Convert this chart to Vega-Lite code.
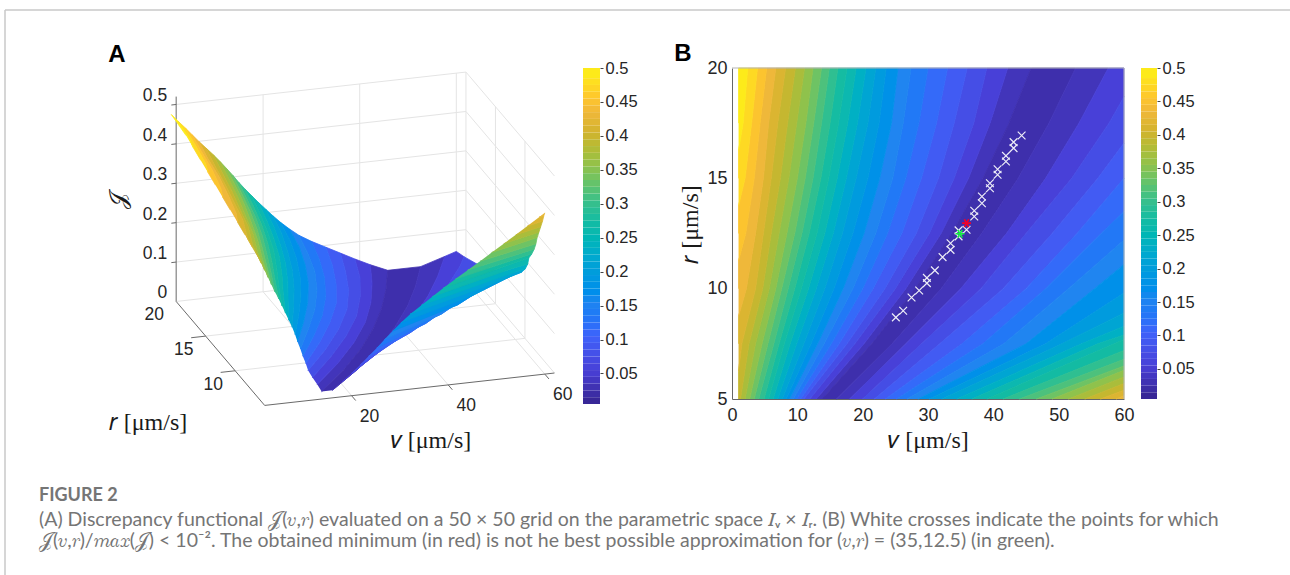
{"$schema":"https://vega.github.io/schema/vega-lite/v6.json","padding":0,"bounds":"flush","spacing":0,"columns":6,"align":"none","config":{"view":{"stroke":null},"font":"Liberation Sans"},
"datasets":{"s":[
{"a":1,"b":0,"v":13.8,"r":5,"J":0.02},{"a":1,"b":0,"v":21.4,"r":7.5,"J":0.02},{"a":1,"b":0,"v":28,"r":10,"J":0.02},{"a":1,"b":0,"v":33.6,"r":12.5,"J":0.02},{"a":1,"b":0,"v":38.4,"r":15,"J":0.02},{"a":1,"b":0,"v":42.4,"r":17.5,"J":0.02},{"a":1,"b":0,"v":45.8,"r":20,"J":0.02},
{"a":2,"b":1,"v":12.9,"r":5,"J":0.04},{"a":2,"b":1,"v":20.2,"r":7.5,"J":0.04},{"a":2,"b":1,"v":26.6,"r":10,"J":0.04},{"a":2,"b":1,"v":32,"r":12.5,"J":0.04},{"a":2,"b":1,"v":36.2,"r":15,"J":0.04},{"a":2,"b":1,"v":39.5,"r":17.5,"J":0.04},{"a":2,"b":1,"v":42.2,"r":20,"J":0.04},
{"a":3,"b":2,"v":11.9,"r":5,"J":0.06},{"a":3,"b":2,"v":18.8,"r":7.5,"J":0.06},{"a":3,"b":2,"v":25,"r":10,"J":0.06},{"a":3,"b":2,"v":30.2,"r":12.5,"J":0.06},{"a":3,"b":2,"v":34,"r":15,"J":0.06},{"a":3,"b":2,"v":37,"r":17.5,"J":0.06},{"a":3,"b":2,"v":39,"r":20,"J":0.06},
{"a":4,"b":3,"v":11,"r":5,"J":0.08},{"a":4,"b":3,"v":17.6,"r":7.5,"J":0.08},{"a":4,"b":3,"v":23.4,"r":10,"J":0.08},{"a":4,"b":3,"v":28.2,"r":12.5,"J":0.08},{"a":4,"b":3,"v":31.6,"r":15,"J":0.08},{"a":4,"b":3,"v":34,"r":17.5,"J":0.08},{"a":4,"b":3,"v":36,"r":20,"J":0.08},
{"a":5,"b":4,"v":10.5,"r":5,"J":0.1},{"a":5,"b":4,"v":16.4,"r":7.5,"J":0.1},{"a":5,"b":4,"v":21.6,"r":10,"J":0.1},{"a":5,"b":4,"v":26,"r":12.5,"J":0.1},{"a":5,"b":4,"v":29,"r":15,"J":0.1},{"a":5,"b":4,"v":31.3,"r":17.5,"J":0.1},{"a":5,"b":4,"v":33,"r":20,"J":0.1},
{"a":6,"b":5,"v":9.9,"r":5,"J":0.12},{"a":6,"b":5,"v":15.2,"r":7.5,"J":0.12},{"a":6,"b":5,"v":20,"r":10,"J":0.12},{"a":6,"b":5,"v":23.8,"r":12.5,"J":0.12},{"a":6,"b":5,"v":26.6,"r":15,"J":0.12},{"a":6,"b":5,"v":28.6,"r":17.5,"J":0.12},{"a":6,"b":5,"v":30,"r":20,"J":0.12},
{"a":7,"b":6,"v":9.4,"r":5,"J":0.14},{"a":7,"b":6,"v":14.1,"r":7.5,"J":0.14},{"a":7,"b":6,"v":18.5,"r":10,"J":0.14},{"a":7,"b":6,"v":22,"r":12.5,"J":0.14},{"a":7,"b":6,"v":24.6,"r":15,"J":0.14},{"a":7,"b":6,"v":26.2,"r":17.5,"J":0.14},{"a":7,"b":6,"v":27.4,"r":20,"J":0.14},
{"a":8,"b":7,"v":8.8,"r":5,"J":0.16},{"a":8,"b":7,"v":13.1,"r":7.5,"J":0.16},{"a":8,"b":7,"v":17,"r":10,"J":0.16},{"a":8,"b":7,"v":20.2,"r":12.5,"J":0.16},{"a":8,"b":7,"v":22.6,"r":15,"J":0.16},{"a":8,"b":7,"v":24.4,"r":17.5,"J":0.16},{"a":8,"b":7,"v":25.4,"r":20,"J":0.16},
{"a":9,"b":8,"v":8.3,"r":5,"J":0.18},{"a":9,"b":8,"v":12.1,"r":7.5,"J":0.18},{"a":9,"b":8,"v":15.6,"r":10,"J":0.18},{"a":9,"b":8,"v":18.5,"r":12.5,"J":0.18},{"a":9,"b":8,"v":20.8,"r":15,"J":0.18},{"a":9,"b":8,"v":22.5,"r":17.5,"J":0.18},{"a":9,"b":8,"v":23.6,"r":20,"J":0.18},
{"a":10,"b":9,"v":7.7,"r":5,"J":0.2},{"a":10,"b":9,"v":11,"r":7.5,"J":0.2},{"a":10,"b":9,"v":14.2,"r":10,"J":0.2},{"a":10,"b":9,"v":16.9,"r":12.5,"J":0.2},{"a":10,"b":9,"v":19,"r":15,"J":0.2},{"a":10,"b":9,"v":20.8,"r":17.5,"J":0.2},{"a":10,"b":9,"v":22,"r":20,"J":0.2},
{"a":11,"b":10,"v":7,"r":5,"J":0.22},{"a":11,"b":10,"v":9.9,"r":7.5,"J":0.22},{"a":11,"b":10,"v":12.9,"r":10,"J":0.22},{"a":11,"b":10,"v":15.5,"r":12.5,"J":0.22},{"a":11,"b":10,"v":17.5,"r":15,"J":0.22},{"a":11,"b":10,"v":19.2,"r":17.5,"J":0.22},{"a":11,"b":10,"v":20.5,"r":20,"J":0.22},
{"a":12,"b":11,"v":6.3,"r":5,"J":0.24},{"a":12,"b":11,"v":8.9,"r":7.5,"J":0.24},{"a":12,"b":11,"v":11.7,"r":10,"J":0.24},{"a":12,"b":11,"v":14.2,"r":12.5,"J":0.24},{"a":12,"b":11,"v":16.1,"r":15,"J":0.24},{"a":12,"b":11,"v":17.7,"r":17.5,"J":0.24},{"a":12,"b":11,"v":19,"r":20,"J":0.24},
{"a":13,"b":12,"v":5.6,"r":5,"J":0.26},{"a":13,"b":12,"v":8,"r":7.5,"J":0.26},{"a":13,"b":12,"v":10.6,"r":10,"J":0.26},{"a":13,"b":12,"v":13,"r":12.5,"J":0.26},{"a":13,"b":12,"v":14.8,"r":15,"J":0.26},{"a":13,"b":12,"v":16.3,"r":17.5,"J":0.26},{"a":13,"b":12,"v":17.6,"r":20,"J":0.26},
{"a":14,"b":13,"v":4.9,"r":5,"J":0.28},{"a":14,"b":13,"v":7.2,"r":7.5,"J":0.28},{"a":14,"b":13,"v":9.6,"r":10,"J":0.28},{"a":14,"b":13,"v":11.8,"r":12.5,"J":0.28},{"a":14,"b":13,"v":13.6,"r":15,"J":0.28},{"a":14,"b":13,"v":15,"r":17.5,"J":0.28},{"a":14,"b":13,"v":16.2,"r":20,"J":0.28},
{"a":15,"b":14,"v":4.1,"r":5,"J":0.3},{"a":15,"b":14,"v":6.4,"r":7.5,"J":0.3},{"a":15,"b":14,"v":8.6,"r":10,"J":0.3},{"a":15,"b":14,"v":10.7,"r":12.5,"J":0.3},{"a":15,"b":14,"v":12.4,"r":15,"J":0.3},{"a":15,"b":14,"v":13.7,"r":17.5,"J":0.3},{"a":15,"b":14,"v":14.9,"r":20,"J":0.3},
{"a":16,"b":15,"v":3.4,"r":5,"J":0.32},{"a":16,"b":15,"v":5.5,"r":7.5,"J":0.32},{"a":16,"b":15,"v":7.6,"r":10,"J":0.32},{"a":16,"b":15,"v":9.6,"r":12.5,"J":0.32},{"a":16,"b":15,"v":11.2,"r":15,"J":0.32},{"a":16,"b":15,"v":12.5,"r":17.5,"J":0.32},{"a":16,"b":15,"v":13.7,"r":20,"J":0.32},
{"a":17,"b":16,"v":2.7,"r":5,"J":0.34},{"a":17,"b":16,"v":4.6,"r":7.5,"J":0.34},{"a":17,"b":16,"v":6.7,"r":10,"J":0.34},{"a":17,"b":16,"v":8.4,"r":12.5,"J":0.34},{"a":17,"b":16,"v":10,"r":15,"J":0.34},{"a":17,"b":16,"v":11.3,"r":17.5,"J":0.34},{"a":17,"b":16,"v":12.4,"r":20,"J":0.34},
{"a":18,"b":17,"v":2,"r":5,"J":0.36},{"a":18,"b":17,"v":3.6,"r":7.5,"J":0.36},{"a":18,"b":17,"v":5.7,"r":10,"J":0.36},{"a":18,"b":17,"v":7.2,"r":12.5,"J":0.36},{"a":18,"b":17,"v":8.7,"r":15,"J":0.36},{"a":18,"b":17,"v":9.9,"r":17.5,"J":0.36},{"a":18,"b":17,"v":11.1,"r":20,"J":0.36},
{"a":19,"b":18,"v":1.3,"r":5,"J":0.38},{"a":19,"b":18,"v":2.6,"r":7.5,"J":0.38},{"a":19,"b":18,"v":4.7,"r":10,"J":0.38},{"a":19,"b":18,"v":6,"r":12.5,"J":0.38},{"a":19,"b":18,"v":7.4,"r":15,"J":0.38},{"a":19,"b":18,"v":8.5,"r":17.5,"J":0.38},{"a":19,"b":18,"v":9.7,"r":20,"J":0.38},
{"b":19,"v":1,"r":5,"J":0.39},
{"a":20,"b":19,"v":1,"r":6.25,"J":0.4},{"a":20,"b":19,"v":1.5,"r":7.5,"J":0.4},{"a":20,"b":19,"v":3.6,"r":10,"J":0.4},{"a":20,"b":19,"v":4.8,"r":12.5,"J":0.4},{"a":20,"b":19,"v":6,"r":15,"J":0.4},{"a":20,"b":19,"v":7,"r":17.5,"J":0.4},{"a":20,"b":19,"v":8.2,"r":20,"J":0.4},
{"b":20,"v":1,"r":7.5,"J":0.41},
{"a":21,"b":20,"v":1,"r":8.75,"J":0.42},{"a":21,"b":20,"v":2.2,"r":10,"J":0.42},{"a":21,"b":20,"v":3.6,"r":12.5,"J":0.42},{"a":21,"b":20,"v":4.8,"r":15,"J":0.42},{"a":21,"b":20,"v":5.6,"r":17.5,"J":0.42},{"a":21,"b":20,"v":6.7,"r":20,"J":0.42},
{"b":21,"v":1,"r":10,"J":0.43},
{"a":22,"b":21,"v":1,"r":11.25,"J":0.44},{"a":22,"b":21,"v":2.1,"r":12.5,"J":0.44},{"a":22,"b":21,"v":3.4,"r":15,"J":0.44},{"a":22,"b":21,"v":4.3,"r":17.5,"J":0.44},{"a":22,"b":21,"v":5.3,"r":20,"J":0.44},
{"b":22,"v":1,"r":12.5,"J":0.45},
{"a":23,"b":22,"v":1,"r":13.75,"J":0.46},{"a":23,"b":22,"v":2,"r":15,"J":0.46},{"a":23,"b":22,"v":3,"r":17.5,"J":0.46},{"a":23,"b":22,"v":3.9,"r":20,"J":0.46},
{"b":23,"v":1,"r":15,"J":0.47},
{"a":24,"b":23,"v":1,"r":16.25,"J":0.48},{"a":24,"b":23,"v":1.7,"r":17.5,"J":0.48},{"a":24,"b":23,"v":2.4,"r":20,"J":0.48},
{"b":24,"v":1,"r":17.5,"J":0.49},{"b":24,"v":1,"r":20,"J":0.5},
{"a":0,"b":-1,"v":16,"r":5,"J":0.02},{"a":0,"b":-1,"v":24.5,"r":7.5,"J":0.02},{"a":0,"b":-1,"v":32,"r":10,"J":0.02},{"a":0,"b":-1,"v":38.2,"r":12.5,"J":0.02},{"a":0,"b":-1,"v":43.8,"r":15,"J":0.02},{"a":0,"b":-1,"v":48.5,"r":17.5,"J":0.02},{"a":0,"b":-1,"v":52.6,"r":20,"J":0.02},
{"a":-1,"b":-2,"v":18,"r":5,"J":0.04},{"a":-1,"b":-2,"v":26.6,"r":7.5,"J":0.04},{"a":-1,"b":-2,"v":35,"r":10,"J":0.04},{"a":-1,"b":-2,"v":42,"r":12.5,"J":0.04},{"a":-1,"b":-2,"v":48,"r":15,"J":0.04},{"a":-1,"b":-2,"v":53.1,"r":17.5,"J":0.04},{"a":-1,"b":-2,"v":57.6,"r":20,"J":0.04},
{"a":-2,"b":-3,"v":20,"r":5,"J":0.06},{"a":-2,"b":-3,"v":29,"r":7.5,"J":0.06},{"a":-2,"b":-3,"v":38.1,"r":10,"J":0.06},{"a":-2,"b":-3,"v":45,"r":12.5,"J":0.06},{"a":-2,"b":-3,"v":52,"r":15,"J":0.06},{"a":-2,"b":-3,"v":57.7,"r":17.5,"J":0.06},{"a":-2,"b":-3,"v":60,"r":18.7,"J":0.06},{"a":-2,"v":60,"r":20,"J":0.05},
{"a":-3,"b":-4,"v":21.8,"r":5,"J":0.08},{"a":-3,"b":-4,"v":31.8,"r":7.5,"J":0.08},{"a":-3,"b":-4,"v":41.5,"r":10,"J":0.08},{"a":-3,"b":-4,"v":49,"r":12.5,"J":0.08},{"a":-3,"b":-4,"v":56,"r":15,"J":0.08},{"a":-3,"b":-4,"v":60,"r":16.6,"J":0.08},
{"a":-4,"b":-5,"v":23.5,"r":5,"J":0.1},{"a":-4,"b":-5,"v":35.2,"r":7.5,"J":0.1},{"a":-4,"b":-5,"v":45,"r":10,"J":0.1},{"a":-4,"b":-5,"v":52.8,"r":12.5,"J":0.1},{"a":-4,"b":-5,"v":60,"r":15,"J":0.1},
{"a":-5,"b":-6,"v":25.2,"r":5,"J":0.12},{"a":-5,"b":-6,"v":38.4,"r":7.5,"J":0.12},{"a":-5,"b":-6,"v":48,"r":10,"J":0.12},{"a":-5,"b":-6,"v":56.5,"r":12.5,"J":0.12},{"a":-5,"b":-6,"v":60,"r":13.5,"J":0.12},
{"a":-6,"b":-7,"v":26.8,"r":5,"J":0.14},{"a":-6,"b":-7,"v":41.6,"r":7.5,"J":0.14},{"a":-6,"b":-7,"v":51.5,"r":10,"J":0.14},{"a":-6,"b":-7,"v":60,"r":12.2,"J":0.14},
{"a":-7,"b":-8,"v":28.5,"r":5,"J":0.16},{"a":-7,"b":-8,"v":45,"r":7.5,"J":0.16},{"a":-7,"b":-8,"v":55.5,"r":10,"J":0.16},{"a":-7,"b":-8,"v":60,"r":11.1,"J":0.16},
{"a":-8,"b":-9,"v":30.2,"r":5,"J":0.18},{"a":-8,"b":-9,"v":48,"r":7.5,"J":0.18},{"a":-8,"b":-9,"v":60,"r":9.8,"J":0.18},
{"a":-9,"b":-10,"v":32.1,"r":5,"J":0.2},{"a":-9,"b":-10,"v":50.5,"r":7.5,"J":0.2},{"a":-9,"b":-10,"v":60,"r":8.9,"J":0.2},
{"a":-10,"b":-11,"v":34.4,"r":5,"J":0.22},{"a":-10,"b":-11,"v":53.5,"r":7.5,"J":0.22},{"a":-10,"b":-11,"v":60,"r":8.3,"J":0.22},
{"a":-11,"b":-12,"v":36.7,"r":5,"J":0.24},{"a":-11,"b":-12,"v":56,"r":7.5,"J":0.24},{"a":-11,"b":-12,"v":60,"r":7.9,"J":0.24},
{"a":-12,"b":-13,"v":39,"r":5,"J":0.26},{"a":-12,"b":-13,"v":58.5,"r":7.5,"J":0.26},{"a":-12,"b":-13,"v":60,"r":7.7,"J":0.26},
{"a":-13,"b":-14,"v":41.5,"r":5,"J":0.28},{"a":-13,"b":-14,"v":60,"r":7.2,"J":0.28},
{"a":-14,"b":-15,"v":44,"r":5,"J":0.3},{"a":-14,"b":-15,"v":60,"r":6.8,"J":0.3},
{"a":-15,"b":-16,"v":46.6,"r":5,"J":0.32},{"a":-15,"b":-16,"v":60,"r":6.5,"J":0.32},
{"a":-16,"b":-17,"v":49,"r":5,"J":0.34},{"a":-16,"b":-17,"v":60,"r":6.3,"J":0.34},
{"a":-17,"b":-18,"v":51.5,"r":5,"J":0.36},{"a":-17,"b":-18,"v":60,"r":6,"J":0.36},
{"a":-18,"b":-19,"v":54,"r":5,"J":0.38},{"a":-18,"b":-19,"v":60,"r":5.7,"J":0.38},
{"a":-19,"b":-20,"v":56.4,"r":5,"J":0.4},{"a":-19,"b":-20,"v":60,"r":5.4,"J":0.4},
{"a":-20,"b":-21,"v":58.8,"r":5,"J":0.42},{"a":-20,"b":-21,"v":60,"r":5.15,"J":0.42},
{"a":-21,"v":60,"r":5,"J":0.43}
],
"bar":[{"J":0.005,"J2":0.015},{"J":0.015,"J2":0.025},{"J":0.025,"J2":0.035},{"J":0.035,"J2":0.045},{"J":0.045,"J2":0.055},{"J":0.055,"J2":0.065},{"J":0.065,"J2":0.075},{"J":0.075,"J2":0.085},{"J":0.085,"J2":0.095},{"J":0.095,"J2":0.105},{"J":0.105,"J2":0.115},{"J":0.115,"J2":0.125},{"J":0.125,"J2":0.135},{"J":0.135,"J2":0.145},{"J":0.145,"J2":0.155},{"J":0.155,"J2":0.165},{"J":0.165,"J2":0.175},{"J":0.175,"J2":0.185},{"J":0.185,"J2":0.195},{"J":0.195,"J2":0.205},{"J":0.205,"J2":0.215},{"J":0.215,"J2":0.225},{"J":0.225,"J2":0.235},{"J":0.235,"J2":0.245},{"J":0.245,"J2":0.255},{"J":0.255,"J2":0.265},{"J":0.265,"J2":0.275},{"J":0.275,"J2":0.285},{"J":0.285,"J2":0.295},{"J":0.295,"J2":0.305},{"J":0.305,"J2":0.315},{"J":0.315,"J2":0.325},{"J":0.325,"J2":0.335},{"J":0.335,"J2":0.345},{"J":0.345,"J2":0.355},{"J":0.355,"J2":0.365},{"J":0.365,"J2":0.375},{"J":0.375,"J2":0.385},{"J":0.385,"J2":0.395},{"J":0.395,"J2":0.405},{"J":0.405,"J2":0.415},{"J":0.415,"J2":0.425},{"J":0.425,"J2":0.435},{"J":0.435,"J2":0.445},{"J":0.445,"J2":0.455},{"J":0.455,"J2":0.465},{"J":0.465,"J2":0.475},{"J":0.475,"J2":0.485},{"J":0.485,"J2":0.5}],
"grid":[
{"d":0,"v":2,"r":20,"J":0,"v2":62,"r2":20,"J2":0},{"d":0,"v":2,"r":20,"J":0.1,"v2":62,"r2":20,"J2":0.1},{"d":0,"v":2,"r":20,"J":0.2,"v2":62,"r2":20,"J2":0.2},{"d":0,"v":2,"r":20,"J":0.3,"v2":62,"r2":20,"J2":0.3},{"d":0,"v":2,"r":20,"J":0.4,"v2":62,"r2":20,"J2":0.4},{"d":0,"v":2,"r":20,"J":0.5,"v2":62,"r2":20,"J2":0.5},
{"d":0,"v":62,"r":20,"J":0,"v2":62,"r2":5,"J2":0},{"d":0,"v":62,"r":20,"J":0.1,"v2":62,"r2":5,"J2":0.1},{"d":0,"v":62,"r":20,"J":0.2,"v2":62,"r2":5,"J2":0.2},{"d":0,"v":62,"r":20,"J":0.3,"v2":62,"r2":5,"J2":0.3},{"d":0,"v":62,"r":20,"J":0.4,"v2":62,"r2":5,"J2":0.4},{"d":0,"v":62,"r":20,"J":0.5,"v2":62,"r2":5,"J2":0.5},
{"d":0,"v":20,"r":20,"J":0,"v2":20,"r2":20,"J2":0.5},{"d":0,"v":40,"r":20,"J":0,"v2":40,"r2":20,"J2":0.5},{"d":0,"v":60,"r":20,"J":0,"v2":60,"r2":20,"J2":0.5},{"d":0,"v":62,"r":20,"J":0,"v2":62,"r2":20,"J2":0.5},
{"d":0,"v":62,"r":15,"J":0,"v2":62,"r2":15,"J2":0.5},{"d":0,"v":62,"r":10,"J":0,"v2":62,"r2":10,"J2":0.5},
{"d":0,"v":20,"r":5,"J":0,"v2":20,"r2":20,"J2":0},{"d":0,"v":40,"r":5,"J":0,"v2":40,"r2":20,"J2":0},{"d":0,"v":60,"r":5,"J":0,"v2":60,"r2":20,"J2":0},
{"d":0,"v":2,"r":10,"J":0,"v2":62,"r2":10,"J2":0},{"d":0,"v":2,"r":15,"J":0,"v2":62,"r2":15,"J2":0},
{"d":1,"v":2,"r":5,"J":0,"v2":62,"r2":5,"J2":0},{"d":1,"v":2,"r":5,"J":0,"v2":2,"r2":20,"J2":0},{"d":1,"v":2,"r":20,"J":0,"v2":2,"r2":20,"J2":0.52},
{"d":1,"v":20,"r":5,"J":0,"v2":20,"r2":4.3,"J2":0},{"d":1,"v":40,"r":5,"J":0,"v2":40,"r2":4.3,"J2":0},{"d":1,"v":60,"r":5,"J":0,"v2":60,"r2":4.3,"J2":0},
{"d":1,"v":2,"r":10,"J":0,"v2":-1,"r2":10,"J2":0},{"d":1,"v":2,"r":15,"J":0,"v2":-1,"r2":15,"J2":0},
{"d":1,"v":2,"r":20,"J":0.1,"v2":1,"r2":20,"J2":0.1},{"d":1,"v":2,"r":20,"J":0.2,"v2":1,"r2":20,"J2":0.2},{"d":1,"v":2,"r":20,"J":0.3,"v2":1,"r2":20,"J2":0.3},{"d":1,"v":2,"r":20,"J":0.4,"v2":1,"r2":20,"J2":0.4},{"d":1,"v":2,"r":20,"J":0.5,"v2":1,"r2":20,"J2":0.5}
]},
"concat":[
{"width":583,"height":404,
"layer":[
{"data":{"name":"grid"},"transform":[{"calculate":"255+4.83*datum.v-5.9*(datum.r-5)","as":"x"},{"calculate":"406.5-0.54*datum.v-6.93*(datum.r-5)-394*datum.J","as":"y"},{"calculate":"255+4.83*datum.v2-5.9*(datum.r2-5)","as":"x2"},{"calculate":"406.5-0.54*datum.v2-6.93*(datum.r2-5)-394*datum.J2","as":"y2"}],
"mark":{"type":"rule","strokeWidth":1},
"encoding":{"x":{"field":"x","type":"quantitative","scale":{"domain":[0,583],"range":[0,583]},"axis":null},"y":{"field":"y","type":"quantitative","scale":{"domain":[0,404],"range":[0,404]},"axis":null},"x2":{"field":"x2"},"y2":{"field":"y2"},"color":{"field":"d","type":"nominal","scale":{"domain":[0,1],"range":["#e4e4e4","#6a6a6a"]},"legend":null}}},
{"data":{"name":"s"},"transform":[{"fold":["a","b"],"as":["key","p"]},{"filter":"isValid(datum.p)&&datum.p>=0"},{"calculate":"datum.key=='a'?datum.r:100-datum.r","as":"o"},{"joinaggregate":[{"op":"mean","field":"J","as":"c"}],"groupby":["p"]},{"calculate":"255+4.83*datum.v-5.9*(datum.r-5)","as":"x"},{"calculate":"406.5-0.54*datum.v-6.93*(datum.r-5)-375*datum.J","as":"y"}],
"mark":{"type":"line","strokeWidth":0.8},
"encoding":{"x":{"field":"x","type":"quantitative","scale":{"domain":[0,583],"range":[0,583]},"axis":null},"y":{"field":"y","type":"quantitative","scale":{"domain":[0,404],"range":[0,404]},"axis":null},"detail":{"field":"p"},"order":{"field":"o"},
"fill":{"field":"c","type":"quantitative","legend":null,"scale":{"domain":[0.01,0.05,0.1,0.15,0.2,0.25,0.3,0.35,0.4,0.43,0.45,0.5],"range":["#3a2a9e","#4840d8","#3f62fa","#2085f0","#129fd8","#0cb8b0","#3cc088","#8fc24c","#d2b32e","#f0b83a","#fdc52e","#f9fb15"]}},
"stroke":{"field":"c","type":"quantitative","legend":null,"scale":{"domain":[0.01,0.05,0.1,0.15,0.2,0.25,0.3,0.35,0.4,0.43,0.45,0.5],"range":["#3a2a9e","#4840d8","#3f62fa","#2085f0","#129fd8","#0cb8b0","#3cc088","#8fc24c","#d2b32e","#f0b83a","#fdc52e","#f9fb15"]}}}},
{"data":{"name":"s"},"transform":[{"fold":["a","b"],"as":["key","p"]},{"filter":"isValid(datum.p)&&datum.p<0"},{"calculate":"datum.key=='a'?datum.r:100-datum.r","as":"o"},{"joinaggregate":[{"op":"mean","field":"J","as":"c"}],"groupby":["p"]},{"calculate":"255+4.83*datum.v-5.9*(datum.r-5)","as":"x"},{"calculate":"406.5-0.54*datum.v-6.93*(datum.r-5)-375*datum.J","as":"y"}],
"mark":{"type":"line","strokeWidth":0.8},
"encoding":{"x":{"field":"x","type":"quantitative","scale":{"domain":[0,583],"range":[0,583]},"axis":null},"y":{"field":"y","type":"quantitative","scale":{"domain":[0,404],"range":[0,404]},"axis":null},"detail":{"field":"p"},"order":{"field":"o"},
"fill":{"field":"c","type":"quantitative","legend":null,"scale":{"domain":[0.01,0.05,0.1,0.15,0.2,0.25,0.3,0.35,0.4,0.43,0.45,0.5],"range":["#3a2a9e","#4840d8","#3f62fa","#2085f0","#129fd8","#0cb8b0","#3cc088","#8fc24c","#d2b32e","#f0b83a","#fdc52e","#f9fb15"]}},
"stroke":{"field":"c","type":"quantitative","legend":null,"scale":{"domain":[0.01,0.05,0.1,0.15,0.2,0.25,0.3,0.35,0.4,0.43,0.45,0.5],"range":["#3a2a9e","#4840d8","#3f62fa","#2085f0","#129fd8","#0cb8b0","#3cc088","#8fc24c","#d2b32e","#f0b83a","#fdc52e","#f9fb15"]}}}},
{"data":{"values":[{"t":"0.5","v":2,"r":20,"J":0.5},{"t":"0.4","v":2,"r":20,"J":0.4},{"t":"0.3","v":2,"r":20,"J":0.3},{"t":"0.2","v":2,"r":20,"J":0.2},{"t":"0.1","v":2,"r":20,"J":0.1},{"t":"0","v":2,"r":20,"J":0}]},"transform":[{"calculate":"255+4.83*datum.v-5.9*(datum.r-5)","as":"x"},{"calculate":"406.5-0.54*datum.v-6.93*(datum.r-5)-394*datum.J","as":"y"}],
"mark":{"type":"text","align":"right","baseline":"middle","dx":-9,"dy":-8,"fontSize":17.5,"color":"#262626"},
"encoding":{"x":{"field":"x","type":"quantitative","scale":{"domain":[0,583],"range":[0,583]},"axis":null},"y":{"field":"y","type":"quantitative","scale":{"domain":[0,404],"range":[0,404]},"axis":null},"text":{"field":"t"}}},
{"data":{"values":[{"t":"20","v":2,"r":20,"J":0},{"t":"15","v":2,"r":15,"J":0},{"t":"10","v":2,"r":10,"J":0}]},"transform":[{"calculate":"255+4.83*datum.v-5.9*(datum.r-5)","as":"x"},{"calculate":"406.5-0.54*datum.v-6.93*(datum.r-5)-394*datum.J","as":"y"}],
"mark":{"type":"text","align":"center","baseline":"middle","dx":-22,"dy":14,"fontSize":17.5,"color":"#262626"},
"encoding":{"x":{"field":"x","type":"quantitative","scale":{"domain":[0,583],"range":[0,583]},"axis":null},"y":{"field":"y","type":"quantitative","scale":{"domain":[0,404],"range":[0,404]},"axis":null},"text":{"field":"t"}}},
{"data":{"values":[{"t":"20","v":20,"r":5,"J":0},{"t":"40","v":40,"r":5,"J":0},{"t":"60","v":60,"r":5,"J":0}]},"transform":[{"calculate":"255+4.83*datum.v-5.9*(datum.r-5)","as":"x"},{"calculate":"406.5-0.54*datum.v-6.93*(datum.r-5)-394*datum.J","as":"y"}],
"mark":{"type":"text","align":"center","baseline":"middle","dx":18,"dy":21,"fontSize":17.5,"color":"#262626"},
"encoding":{"x":{"field":"x","type":"quantitative","scale":{"domain":[0,583],"range":[0,583]},"axis":null},"y":{"field":"y","type":"quantitative","scale":{"domain":[0,404],"range":[0,404]},"axis":null},"text":{"field":"t"}}},
{"data":{"values":[{"t":"𝑟 [μm/s]","x":148,"y":423,"a":0},{"t":"𝑣 [μm/s]","x":431,"y":441,"a":0},{"t":"𝒥","x":119,"y":200,"a":270}]},
"mark":{"type":"text","align":"center","baseline":"middle","color":"#1a1a1a","font":"Liberation Serif","fontSize":24},
"encoding":{"x":{"field":"x","type":"quantitative","scale":{"domain":[0,583],"range":[0,583]},"axis":null},"y":{"field":"y","type":"quantitative","scale":{"domain":[0,404],"range":[0,404]},"axis":null},"text":{"field":"t"},"angle":{"field":"a","type":"quantitative","scale":null}}},
{"data":{"values":[{"t":"A","x":117,"y":55}]},
"mark":{"type":"text","align":"center","baseline":"middle","color":"#000000","fontWeight":"bold","fontSize":24},
"encoding":{"x":{"field":"x","type":"quantitative","scale":{"domain":[0,583],"range":[0,583]},"axis":null},"y":{"field":"y","type":"quantitative","scale":{"domain":[0,404],"range":[0,404]},"axis":null},"text":{"field":"t"}}},
{"data":{"values":[{"x":5,"y":10,"x2":1290,"y2":10},{"x":5,"y":10,"x2":5,"y2":404}]},"mark":{"type":"rule","color":"#c8c8c8","strokeWidth":1.5},
"encoding":{"x":{"field":"x","type":"quantitative","scale":{"domain":[0,583],"range":[0,583]},"axis":null},"y":{"field":"y","type":"quantitative","scale":{"domain":[0,404],"range":[0,404]},"axis":null},"x2":{"field":"x2"},"y2":{"field":"y2"}}}
]},
{"width":17,"height":404,
"layer":[
{"data":{"name":"bar"},"mark":{"type":"rect"},"encoding":{"y":{"field":"J","type":"quantitative","scale":{"domain":[0.005,0.5],"range":[404,68]},"axis":{"orient":"right","values":[0.05,0.1,0.15,0.2,0.25,0.3,0.35,0.4,0.45,0.5],"format":".2~f","title":null,"grid":false,"domain":false,"labelFlush":false,"tickSize":3,"tickColor":"#444","labelFontSize":16.5,"labelColor":"#262626","labelPadding":2}},"y2":{"field":"J2"},"fill":{"field":"J","type":"quantitative","legend":null,"scale":{"domain":[0.01,0.05,0.1,0.15,0.2,0.25,0.3,0.35,0.4,0.43,0.45,0.5],"range":["#3a2a9e","#4840d8","#3f62fa","#2085f0","#129fd8","#0cb8b0","#3cc088","#8fc24c","#d2b32e","#f0b83a","#fdc52e","#f9fb15"]}}}}
]},
{"width":132,"height":1,"mark":{"type":"rule","opacity":0},"encoding":{}},
{"width":392,"height":399,
"layer":[
{"data":{"name":"s"},"transform":[{"fold":["a","b"],"as":["key","p"]},{"filter":"isValid(datum.p)"},{"calculate":"datum.key=='a'?datum.r:100-datum.r","as":"o"},{"joinaggregate":[{"op":"mean","field":"J","as":"c"}],"groupby":["p"]}],
"mark":{"type":"line","strokeWidth":0.8},
"encoding":{"x":{"field":"v","type":"quantitative","scale":{"domain":[0,60],"nice":false,"zero":false},"axis":{"values":[0,10,20,30,40,50,60],"title":"𝑣 [μm/s]","titleFont":"Liberation Serif","titleFontSize":24,"titleFontWeight":"normal","titleColor":"#1a1a1a","titlePadding":4,"labelFontSize":18,"labelFlush":false,"labelColor":"#262626","grid":false,"tickSize":0,"labelPadding":7,"domainColor":"#666"}},
"y":{"field":"r","type":"quantitative","scale":{"domain":[5,20],"range":[399,68],"nice":false,"zero":false},"axis":{"values":[5,10,15,20],"title":"𝑟 [μm/s]","titleFont":"Liberation Serif","titleFontSize":24,"titleFontWeight":"normal","titleColor":"#1a1a1a","titlePadding":4,"titleY":224,"labelFontSize":18,"labelFlush":false,"labelColor":"#262626","grid":false,"tickSize":0,"labelPadding":5,"domainColor":"#666"}},
"detail":{"field":"p"},"order":{"field":"o"},
"fill":{"field":"c","type":"quantitative","legend":null,"scale":{"domain":[0.01,0.05,0.1,0.15,0.2,0.25,0.3,0.35,0.4,0.43,0.45,0.5],"range":["#3a2a9e","#4840d8","#3f62fa","#2085f0","#129fd8","#0cb8b0","#3cc088","#8fc24c","#d2b32e","#f0b83a","#fdc52e","#f9fb15"]}},
"stroke":{"field":"c","type":"quantitative","legend":null,"scale":{"domain":[0.01,0.05,0.1,0.15,0.2,0.25,0.3,0.35,0.4,0.43,0.45,0.5],"range":["#3a2a9e","#4840d8","#3f62fa","#2085f0","#129fd8","#0cb8b0","#3cc088","#8fc24c","#d2b32e","#f0b83a","#fdc52e","#f9fb15"]}}}},
{"data":{"values":[{"v":0,"v2":60,"r":20,"r2":20},{"v":60,"v2":60,"r":5,"r2":20}]},"mark":{"type":"rule","color":"#b5b5b5","strokeWidth":1},
"encoding":{"x":{"field":"v","type":"quantitative","scale":{"domain":[0,60],"nice":false,"zero":false}},"y":{"field":"r","type":"quantitative","scale":{"domain":[5,20],"range":[399,68],"nice":false,"zero":false}},"x2":{"field":"v2"},"y2":{"field":"r2"}}},
{"data":{"values":[{"v":25.08,"r":8.7},{"v":26.2,"r":9},{"v":27.48,"r":9.6},{"v":28.65,"r":9.92},{"v":29.83,"r":10.25},{"v":29.83,"r":10.49},{"v":31.05,"r":10.83},{"v":32.23,"r":11.43},{"v":33.45,"r":11.76},{"v":33.45,"r":12.06},{"v":34.68,"r":12.37},{"v":34.68,"r":12.64},{"v":35.9,"r":12.67},{"v":37.08,"r":13.27},{"v":37.08,"r":13.53},{"v":38.25,"r":13.87},{"v":38.25,"r":14.18},{"v":39.48,"r":14.55},{"v":39.48,"r":14.78},{"v":40.65,"r":15.16},{"v":40.65,"r":15.41},{"v":41.93,"r":15.76},{"v":41.93,"r":16.02},{"v":43.1,"r":16.37},{"v":43.1,"r":16.64},{"v":44.33,"r":16.94}]},
"mark":{"type":"point","shape":"M-1,-1L1,1M-1,1L1,-1","size":60,"filled":false,"stroke":"#eeeef8","strokeWidth":1.2,"opacity":1},
"encoding":{"x":{"field":"v","type":"quantitative","scale":{"domain":[0,60],"nice":false,"zero":false}},"y":{"field":"r","type":"quantitative","scale":{"domain":[5,20],"range":[399,68],"nice":false,"zero":false}}}},
{"data":{"values":[{"v":35.9,"r":12.97,"k":"min"},{"v":34.9,"r":12.49,"k":"best"}]},
"mark":{"type":"point","shape":"M-1,0L1,0M-0.5,-0.87L0.5,0.87M-0.5,0.87L0.5,-0.87","size":80,"filled":false,"strokeWidth":1.6,"opacity":1},
"encoding":{"x":{"field":"v","type":"quantitative","scale":{"domain":[0,60],"nice":false,"zero":false}},"y":{"field":"r","type":"quantitative","scale":{"domain":[5,20],"range":[399,68],"nice":false,"zero":false}},"stroke":{"field":"k","type":"nominal","legend":null,"scale":{"domain":["min","best"],"range":["#f0002a","#12f040"]}}}},
{"data":{"values":[{"t":"B","v":-7.5,"r":20.63}]},"mark":{"type":"text","align":"center","baseline":"middle","fontSize":24,"fontWeight":"bold","color":"#000000"},
"encoding":{"x":{"field":"v","type":"quantitative","scale":{"domain":[0,60],"nice":false,"zero":false}},"y":{"field":"r","type":"quantitative","scale":{"domain":[5,20],"range":[399,68],"nice":false,"zero":false}},"text":{"field":"t"}}}
],"resolve":{"scale":{"stroke":"independent"}}},
{"width":17,"height":1,"mark":{"type":"rule","opacity":0},"encoding":{}},
{"width":16,"height":399,
"layer":[
{"data":{"name":"bar"},"mark":{"type":"rect"},"encoding":{"y":{"field":"J","type":"quantitative","scale":{"domain":[0.005,0.5],"range":[399,68]},"axis":{"orient":"right","values":[0.05,0.1,0.15,0.2,0.25,0.3,0.35,0.4,0.45,0.5],"format":".2~f","title":null,"grid":false,"domain":false,"labelFlush":false,"tickSize":3,"tickColor":"#444","labelFontSize":16.5,"labelColor":"#262626","labelPadding":2}},"y2":{"field":"J2"},"fill":{"field":"J","type":"quantitative","legend":null,"scale":{"domain":[0.01,0.05,0.1,0.15,0.2,0.25,0.3,0.35,0.4,0.43,0.45,0.5],"range":["#3a2a9e","#4840d8","#3f62fa","#2085f0","#129fd8","#0cb8b0","#3cc088","#8fc24c","#d2b32e","#f0b83a","#fdc52e","#f9fb15"]}}}}
]},
{"width":583,"height":171,
"layer":[
{"data":{"values":[{"t":"FIGURE 2","x":39,"y":496}]},"mark":{"type":"text","align":"left","baseline":"middle","font":"Lato","fontWeight":"bold","fontSize":18,"color":"#757575"},
"encoding":{"x":{"field":"x","type":"quantitative","scale":{"domain":[0,583],"range":[0,583]},"axis":null},"y":{"field":"y","type":"quantitative","scale":{"domain":[404,575],"range":[0,171]},"axis":null},"text":{"field":"t"}}},
{"data":{"values":[{"t":"(A) Discrepancy functional 𝒥(𝑣,𝑟) evaluated on a 50 × 50 grid on the parametric space 𝐼ᵥ × 𝐼ᵣ. (B) White crosses indicate the points for which","x":39,"y":520},{"t":"𝒥(𝑣,𝑟)/𝑚𝑎𝑥(𝒥) < 10⁻². The obtained minimum (in red) is not he best possible approximation for (𝑣,𝑟) = (35,12.5) (in green).","x":39,"y":541}]},"mark":{"type":"text","align":"left","baseline":"middle","font":"Lato","fontSize":19.5,"color":"#757575"},
"encoding":{"x":{"field":"x","type":"quantitative","scale":{"domain":[0,583],"range":[0,583]},"axis":null},"y":{"field":"y","type":"quantitative","scale":{"domain":[404,575],"range":[0,171]},"axis":null},"text":{"field":"t"}}},
{"data":{"values":[{"x":5,"y":404,"y2":575}]},"mark":{"type":"rule","color":"#c8c8c8","strokeWidth":1.5},
"encoding":{"x":{"field":"x","type":"quantitative","scale":{"domain":[0,583],"range":[0,583]},"axis":null},"y":{"field":"y","type":"quantitative","scale":{"domain":[404,575],"range":[0,171]},"axis":null},"y2":{"field":"y2"}}}
]}
]}
